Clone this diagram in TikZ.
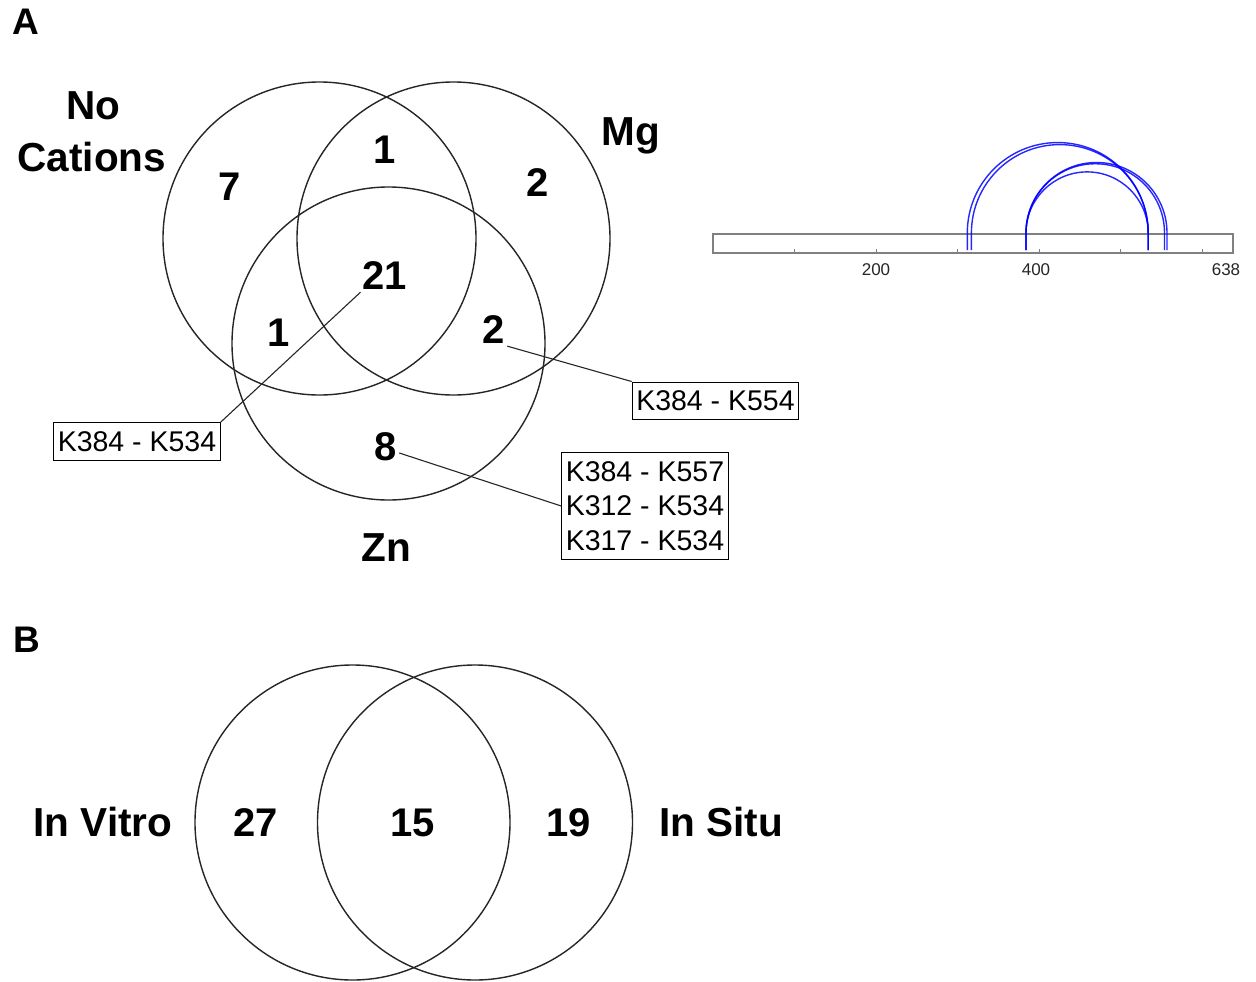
\documentclass[tikz,border=0pt]{standalone}
\usepackage{fontspec}
\setmainfont{Liberation Sans}
\begin{document}
\begin{tikzpicture}[x=1pt,y=-1pt,
  venn/.style={draw=black!85, line width=1.4pt},
  setlab/.style={font=\fontsize{40.5}{44}\selectfont\bfseries, inner sep=2pt, align=center},
  num/.style={font=\fontsize{40}{44}\selectfont\bfseries, inner sep=2pt},
  panel/.style={font=\fontsize{37}{40}\selectfont\bfseries, inner sep=0pt},
  kbox/.style={draw=black, line width=1.2pt, font=\fontsize{28.5}{34.5}\selectfont, inner xsep=4pt, inner ysep=8.8pt, align=left},
  lead/.style={draw=black!85, line width=1.1pt},
  xl/.style={draw=blue, line width=1.4pt, opacity=0.85},
  axtick/.style={draw=gray, line width=0.8pt},
  axlab/.style={font=\fontsize{17}{20}\selectfont, text=black!85, inner sep=0pt}]
\useasboundingbox (0,0) rectangle (1256,982);
\fill[white] (0,0) rectangle (1256,982);

% panel labels
\node[panel] (pA) at (26,22) {A};
\node[panel] (pB) at (27,640) {B};

% Venn A
\draw[venn] (319.5,238.5) circle[radius=156.5];
\draw[venn] (453.5,238.5) circle[radius=156.5];
\draw[venn] (388.5,343.5) circle[radius=156.5];

\node[setlab] (lNo) at (93,106) {No};
\node[setlab] (lCat) at (92,157) {Cations};
\node[setlab] (lMg) at (631,136) {Mg};
\node[setlab] (lZn) at (386,548) {Zn};

\node[num] (n7) at (230,187) {7};
\node[num] (n1a) at (385,150) {1};
\node[num] (n2a) at (538,183) {2};
\node[num] (n21) at (385,276) {21};
\node[num] (n1b) at (279,333) {1};
\node[num] (n2b) at (494,330) {2};
\node[num] (n8) at (386,447) {8};

\node[kbox] (kb1) at (137,441.5) {K384 - K534};
\node[kbox] (kb2) at (715.5,401) {K384 - K554};
\node[kbox] (kb3) at (645,506) {K384 - K557\\K312 - K534\\K317 - K534};

\draw[lead] (n21.south west) -- (kb1.north east);
\draw[lead] (n2b.south east) -- (kb2.north west);
\draw[lead] ([yshift=-6pt]n8.east) -- (kb3.west);

% arc diagram
\draw[gray, line width=1.1pt] (713,234) rectangle (1233,253);
\foreach \i in {1,...,6} {
  \draw[axtick] (713+81.5*\i,253) -- (713+81.5*\i,249);
}
\draw[xl] (967.3,250) -- (967.3,233) arc[start angle=180,end angle=360,radius=90.45] -- (1148.2,250);
\draw[xl] (971.4,250) -- (971.4,233) arc[start angle=180,end angle=360,radius=88.4] -- (1148.2,250);
\draw[xl] (1026.0,250) -- (1026.0,233) arc[start angle=180,end angle=360,radius=61.1] -- (1148.2,250);
\draw[xl] (1026.0,250) -- (1026.0,233) arc[start angle=180,end angle=360,radius=69.25] -- (1164.5,250);
\draw[xl] (1026.0,250) -- (1026.0,233) arc[start angle=180,end angle=360,radius=70.5] -- (1167.0,250);

\node[axlab] (l200) at (876,270) {200};
\node[axlab] (l400) at (1036,270) {400};
\node[axlab] (l638) at (1226,270) {638};

% Venn B
\draw[venn] (352.5,822.5) circle[radius=157.5];
\draw[venn] (475,822.5) circle[radius=157.5];

\node[setlab] (lVitro) at (103,822) {In Vitro};
\node[setlab] (lSitu) at (721,822) {In Situ};
\node[num] (n27) at (256,823) {27};
\node[num] (n15) at (413,823) {15};
\node[num] (n19) at (569,823) {19};
\end{tikzpicture}
\end{document}
